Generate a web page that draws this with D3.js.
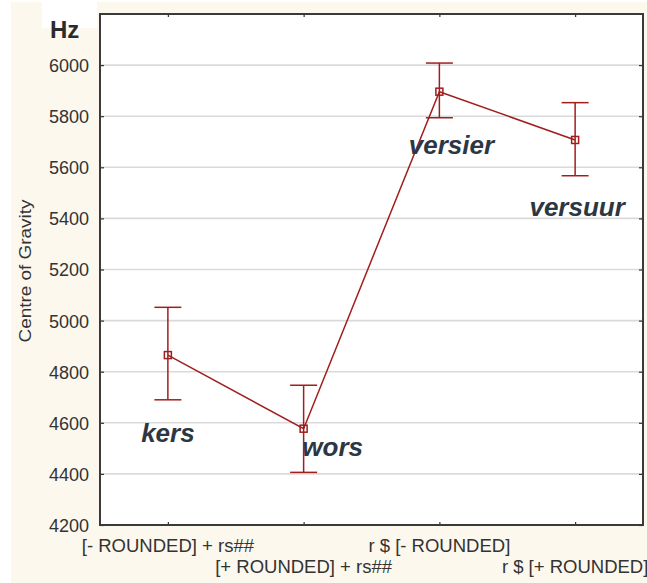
<!DOCTYPE html>
<html>
<head>
<meta charset="utf-8">
<script src="https://cdn.jsdelivr.net/npm/d3@7"></script>
<style>
  body { margin: 0; background: #ffffff; }
  svg { display: block; font-family: "Liberation Sans", Arial, sans-serif; }
</style>
</head>
<body>
<div id="chart"></div>
<script>
// Data
const categories = ["[- ROUNDED] + rs##", "[+ ROUNDED] + rs##", "r $ [- ROUNDED]", "r $ [+ ROUNDED]"];
const words = ["kers", "wors", "versier", "versuur"];
const means = [4865, 4577, 5896, 5707];
const upper = [5052, 4747, 6008, 5853];
const lower = [4690, 4406, 5794, 5567];
const yTicks = [4200, 4400, 4600, 4800, 5000, 5200, 5400, 5600, 5800, 6000];

const data = categories.map((c, i) => ({
    cat: c, word: words[i], mean: means[i], hi: upper[i], lo: lower[i]
}));

// Chart dimensions
const W = 647, H = 583;
const margin = { top: 14, right: 4, bottom: 58, left: 100 };
const width = W - margin.left - margin.right;
const height = H - margin.top - margin.bottom;

const red = "#a01e1e";
const ink = "#333333";

const svg = d3.select("#chart")
    .append("svg")
    .attr("width", W)
    .attr("height", H);

// Backdrop
svg.append("rect")
    .attr("x", 11).attr("y", 2)
    .attr("width", W - 11).attr("height", H - 2)
    .attr("fill", "#fdf8ee");
svg.append("rect")
    .attr("x", 42).attr("y", 0)
    .attr("width", 55).attr("height", 28)
    .attr("fill", "#ffffff");

const g = svg.append("g")
    .attr("transform", "translate(" + margin.left + "," + margin.top + ")");

// Scales
const x = d3.scalePoint()
    .domain(categories)
    .range([0, width])
    .padding(0.5);

const y = d3.scaleLinear()
    .domain([4200, 6200])
    .range([height, 0]);

// Plot area
g.append("rect")
    .attr("width", width)
    .attr("height", height)
    .attr("fill", "#ffffff");

// Grid lines
g.append("g")
    .selectAll("line")
    .data(yTicks.slice(1))
    .join("line")
    .attr("x1", 0)
    .attr("x2", width)
    .attr("y1", d => y(d))
    .attr("y2", d => y(d))
    .attr("stroke", "#dadada")
    .attr("stroke-width", 1.6);

// Y axis tick labels (ticks point inward)
const yAxis = g.append("g")
    .call(d3.axisRight(y).tickValues(yTicks).tickSize(4).tickFormat(d3.format("d")));
yAxis.select(".domain").remove();
yAxis.selectAll("line").attr("stroke", ink).attr("stroke-width", 1.2);
yAxis.selectAll("text")
    .attr("x", -11)
    .attr("dy", "0.36em")
    .attr("text-anchor", "end")
    .attr("fill", ink)
    .style("font-size", "18px");

// Right side inner ticks
const yRight = g.append("g")
    .attr("transform", "translate(" + width + ",0)")
    .call(d3.axisLeft(y).tickValues(yTicks).tickSize(4).tickFormat(""));
yRight.select(".domain").remove();
yRight.selectAll("line").attr("stroke", ink).attr("stroke-width", 1.2);

// Bottom axis: inner ticks, staggered labels
const xAxis = g.append("g")
    .attr("transform", "translate(0," + height + ")")
    .call(d3.axisTop(x).tickSize(3).tickFormat(""));
xAxis.select(".domain").remove();
xAxis.selectAll("line").attr("stroke", ink).attr("stroke-width", 1.2);

g.append("g")
    .selectAll("text")
    .data(categories)
    .join("text")
    .attr("x", d => x(d))
    .attr("y", (d, i) => height + (i % 2 === 0 ? 27 : 48))
    .attr("text-anchor", "middle")
    .attr("fill", ink)
    .style("font-size", "18.5px")
    .text(d => d);

// Top axis inner ticks
const xTop = g.append("g")
    .call(d3.axisBottom(x).tickSize(3).tickFormat(""));
xTop.select(".domain").remove();
xTop.selectAll("line").attr("stroke", ink).attr("stroke-width", 1.2);

// Frame
g.append("rect")
    .attr("width", width)
    .attr("height", height)
    .attr("fill", "none")
    .attr("stroke", "#3a3a3a")
    .attr("stroke-width", 2);

// Error bars
const cap = 13.5;
const bars = g.append("g")
    .attr("stroke", red)
    .attr("stroke-width", 1.5)
    .attr("fill", "none");

bars.selectAll(".whisker")
    .data(data)
    .join("line")
    .attr("x1", d => x(d.cat))
    .attr("x2", d => x(d.cat))
    .attr("y1", d => y(d.hi))
    .attr("y2", d => y(d.lo));

bars.selectAll(".capHi")
    .data(data)
    .join("line")
    .attr("x1", d => x(d.cat) - cap)
    .attr("x2", d => x(d.cat) + cap)
    .attr("y1", d => y(d.hi))
    .attr("y2", d => y(d.hi));

bars.selectAll(".capLo")
    .data(data)
    .join("line")
    .attr("x1", d => x(d.cat) - cap)
    .attr("x2", d => x(d.cat) + cap)
    .attr("y1", d => y(d.lo))
    .attr("y2", d => y(d.lo));

// Mean line
const line = d3.line()
    .x(d => x(d.cat))
    .y(d => y(d.mean));

g.append("path")
    .datum(data)
    .attr("fill", "none")
    .attr("stroke", red)
    .attr("stroke-width", 1.5)
    .attr("d", line);

// Square markers
g.selectAll(".marker")
    .data(data)
    .join("rect")
    .attr("x", d => x(d.cat) - 3.5)
    .attr("y", d => y(d.mean) - 3.5)
    .attr("width", 7)
    .attr("height", 7)
    .attr("fill", "none")
    .attr("stroke", red)
    .attr("stroke-width", 1.5);

// Word labels, placed relative to each point
const labelOffsets = [
    { dx: 0, dy: 42, from: "lo" },
    { dx: 29, dy: 27, from: "mean" },
    { dx: 12, dy: 36, from: "lo" },
    { dx: 2, dy: 40, from: "lo" }
];

g.selectAll(".word")
    .data(data)
    .join("text")
    .attr("x", (d, i) => x(d.cat) + labelOffsets[i].dx)
    .attr("y", (d, i) => y(d[labelOffsets[i].from]) + labelOffsets[i].dy)
    .attr("text-anchor", "middle")
    .attr("fill", "#2d3744")
    .style("font-size", "26px")
    .style("font-weight", "bold")
    .style("font-style", "italic")
    .text(d => d.word);

// Unit label
svg.append("text")
    .attr("x", 50)
    .attr("y", 38)
    .attr("fill", "#2b2b2b")
    .style("font-size", "24px")
    .style("font-weight", "bold")
    .text("Hz");

// Y axis title
svg.append("text")
    .attr("transform", "translate(31,271) rotate(-90)")
    .attr("text-anchor", "middle")
    .attr("fill", ink)
    .style("font-size", "16px")
    .attr("textLength", 143)
    .attr("lengthAdjust", "spacingAndGlyphs")
    .text("Centre of Gravity");
</script>
</body>
</html>
